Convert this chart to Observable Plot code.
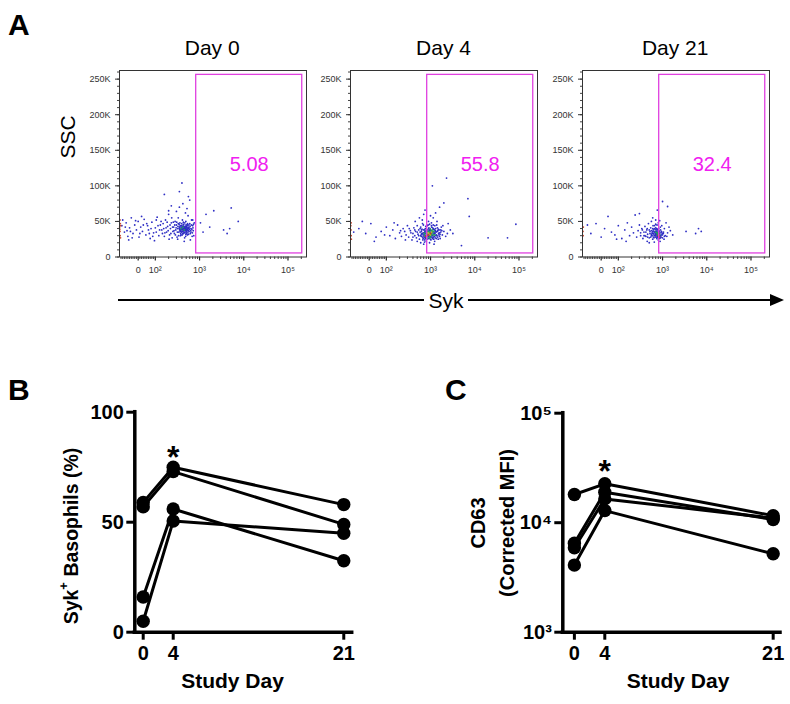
<!DOCTYPE html>
<html><head><meta charset="utf-8">
<script src="https://cdn.jsdelivr.net/npm/d3@7"></script>
<script src="https://cdn.jsdelivr.net/npm/@observablehq/plot@0.6"></script>
<style>
body{margin:0;background:#fff;}
#fig{position:relative;width:790px;height:704px;overflow:hidden;background:#fff;font-family:"Liberation Sans",Arial,sans-serif;}
#fig svg{position:absolute;}
</style></head><body><div id="fig"></div>
<script>
// ---------------- DATA ----------------
// Panel A: flow events [Syk fluorescence, SSC (K)]
const day0Events = [
[-80,35],[-70,48],[-60,29],[-50,41],[-40,55],[-30,33],[-20,45],[-10,38],[0,50],[5,28],[15,42],[25,36],[35,53],[45,31],[55,44],[60,38],[70,26],[80,49],[90,34],[100,41],[110,56],[120,30],[130,45],[-90,52],[-55,24],[20,57],[75,40],[95,23],[-95,44],[-65,37],[-35,27],[10,33],[50,47],[85,29],
[-75,42],[-45,36],[-15,51],[30,45],[65,33],[105,52],
[140,38],[150,47],[160,29],[170,52],[180,35],[190,43],[200,60],[210,31],[220,40],[230,48],[240,27],[250,36],[160,88],[200,65],[230,72],[145,33],[175,41],[205,25],[235,55],
[105,35],[115,44],[125,38],[135,50],[155,40],[165,34],[185,49],[195,37],[215,45],[225,33],[245,42],[255,49],
[260,42],[270,33],[280,50],[290,38],[300,45],[310,28],[320,40],[330,55],[340,35],[350,42],[360,48],[370,30],[380,38],[390,44],[400,36],[410,52],[420,41],[430,33],[440,46],[450,39],[460,27],[470,43],[480,37],[490,50],[500,34],[510,41],[520,45],[530,31],[540,38],[550,58],[560,42],[580,36],[600,47],[620,33],[640,40],[660,52],[680,29],[700,44],[720,37],[760,48],[300,64],[350,70],[420,75],[480,62],[520,68],[600,80],[400,104],[350,92],[560,85],[320,25],[450,22],[620,24],[380,31],[440,40],[500,43],[560,37],[420,36],[470,35],[520,38],[330,47],[360,39],[390,35],[410,43],[430,49],[460,41],[490,32],[540,45],[580,41],[640,35],[700,52],[740,30],
[265,37],[275,45],[285,31],[295,41],[305,49],[315,35],[325,43],[335,30],[345,46],[355,38],[365,44],[375,33],[385,41],[395,47],[405,31],[415,39],[425,45],[435,37],[445,42],[455,34],[465,48],[475,40],[485,29],[495,45],[505,38],[515,33],[525,42],[535,47],[545,35],[555,40],[565,32],[575,45],[590,39],[610,43],[630,37],[650,45],[670,39],[690,34],[710,41],[730,46],[345,40],[365,36],[385,39],[405,42],[425,38],[445,35],[465,39],[485,42],[505,36],[525,40],[360,42],[380,44],[400,39],[420,33],[440,43],[460,38],[480,40],[500,39],[370,37],[390,40],
[1050,48],[1200,35],[1400,60],[1700,42],[2100,65],[3500,38],[4200,33],[4800,40],[7500,50],[5200,69]
];
const day0Edge = [[-105,30],[-106,36],[-108,42],[-104,47],[-106,52],[-103,27],[-107,39],[-102,44]];
const day0Green = [[380,40],[420,42],[450,38]];
const day0Red = [];

const day4Events = [
[-60,40],[-20,33],[10,47],[40,28],[70,36],[100,42],[120,30],[140,38],[160,26],[180,45],[200,34],[220,29],[240,40],[260,36],[280,31],[300,44],[-90,35],[-40,50],[30,22],[90,31],[150,48],[210,37],[270,24],
[320,28],[350,37],[380,24],[400,33],[420,41],[440,30],[460,36],[480,27],[500,44],[520,32],[540,38],[560,25],[580,35],[600,42],[620,29],[640,33],[660,47],[680,26],[700,38],[720,31],[740,35],[760,28],[780,43],[800,22],[820,34],[650,52],[700,60],[560,55],[750,66],[450,50],[600,20],[700,18],[500,22],[780,30],[720,27],[660,33],[620,36],[760,40],[800,37],[680,31],[740,24],[600,30],[640,39],[690,45],[730,21],[770,33],[810,29],
[500,35],[540,30],[580,40],[440,38],[400,28],[360,34],[330,40],[620,32],[660,28],[700,34],[740,38],[780,26],[820,31],[630,38],[670,24],[710,29],[750,36],[790,33],[830,25],
[860,30],[880,36],[900,26],[920,41],[950,33],[980,29],[1000,38],[1020,24],[1050,44],[1080,31],[1100,35],[1130,27],[1160,40],[1200,33],[1240,22],[1280,37],[1320,30],[1380,45],[1450,28],[1500,39],[1580,34],[1650,26],[1750,42],[1850,31],[2000,36],[2200,29],[2500,47],[2800,38],[900,50],[1000,58],[1150,55],[1300,62],[1600,70],[2000,76],[2300,111],[1100,100],[7000,82],[7500,57],[5000,16],[20000,27],[55000,27],[85000,46],[3200,33],[950,20],[1200,18],[880,45],[1400,50],[1050,28],[970,35],[1120,30],[1250,34],[940,38],[1060,42],[1180,25],[1350,26],[1420,36],[1550,31],[1700,38],[1900,44],[2400,33],
[860,35],[900,40],[940,27],[980,33],[1020,37],[1060,30],[1100,26],[1140,35],[1180,39],[1220,29],[1260,33],[1300,40],[1340,35],[1400,30],[1460,37],[1520,33],[1600,29],[1700,35],[870,38],[910,29],[950,37],[990,25],[1030,31],[1070,36],[1110,41],[1150,28],[1190,32],[1230,38],[1270,27],[1310,36],[1360,31],[1430,41],[1490,25],[1560,38],[1640,32],[1800,37],[850,44],[950,46],[1050,48],[1150,45],[1250,44]
];
const day4Edge = [[-105,30],[-106,38],[-104,25],[-107,44],[-105,48]];
const day4Green = [[850,32],[950,30],[1050,34],[1150,31],[900,36],[1000,28],[1100,38],[800,33],[750,30],[1200,36],[980,40],[870,27],
[820,36],[880,33],[930,35],[1020,31],[1080,33],[1130,36],[960,27],[1040,37],[720,33],[1250,31]];
const day4Yellow = [[920,33],[1000,31],[870,34],[1060,35]];
const day4Red = [[900,31],[1000,33],[780,29],[840,30]];

const day21Events = [
[-60,33],[-30,47],[0,28],[20,40],[40,57],[60,35],[80,31],[100,44],[120,26],[140,38],[160,48],[180,30],[200,42],[220,34],[240,59],[260,28],[280,37],[300,61],[150,22],[90,25],[-80,45],
[300,45],[320,30],[340,40],[360,26],[380,35],[400,43],[420,29],[440,38],[460,32],[480,47],[500,27],[520,36],[540,41],[560,30],[580,34],[600,25],[620,38],[640,31],[660,44],[680,28],[700,36],[720,33],[740,40],[760,29],[780,35],[800,31],[820,37],[700,52],[760,66],[600,55],[500,20],[650,21],[800,24],[560,50],[620,28],[680,33],[740,26],[780,30],[820,27],[720,38],[450,22],[400,30],[640,36],[700,30],[750,34],[790,39],[600,33],
[520,33],[540,28],[560,37],[580,30],[600,40],[620,33],[640,27],[660,35],[680,39],[700,32],[720,28],[740,36],[760,32],[780,38],[800,27],[820,33],[660,30],[700,41],[740,31],[780,28],[820,40],[600,36],[560,32],[500,38],[460,28],[420,35],[380,30],[350,38],[320,34],[750,45],[800,48],[700,46],[650,40],[610,44],[450,40],
[850,33],[870,29],[900,38],[930,31],[960,44],[1000,27],[1050,35],[1100,40],[1150,30],[1200,48],[1300,34],[1400,42],[1500,37],[1700,31],[1000,78],[1300,71],[3400,36],[5600,33],[6500,40],[7500,36],[860,51],[880,22],[950,35],[1080,25],[1250,29],[900,30],[980,33],
[840,36],[860,30],[880,34],[900,27],[940,36],[990,31],[1040,33],[1100,29],[860,26],[890,42],[930,28]
];
const day21Edge = [[-105,30],[-106,36],[-104,42]];
const day21Green = [[780,33],[820,35],[760,31],[740,34],[800,33],[860,31],[700,35]];
const day21Yellow = [];
const day21Red = [[800,30],[850,28],[820,32]];
const day0Yellow = [];

const flowTitles = ["Day 0", "Day 4", "Day 21"];
const gatePercents = ["5.08", "55.8", "32.4"];
const gate = {sykLo: 840, sykHi: 210000, sscLo: 5, sscHi: 256};   // SSC in K
const sscTicks = [0, 50, 100, 150, 200, 250];
const sscMinor = d3.range(0, 261, 10);
const sykTicks = [0, 100, 1000, 10000, 100000];
const sykTickLabels = ["0", "10\u00B2", "10\u00B3", "10\u2074", "10\u2075"];
const sykMinor = [-100,-90,-80,-70,-60,-50,-40,-30,-20,-10,10,20,30,40,50,60,70,80,90,
  200,300,400,500,600,700,800,900,2000,3000,4000,5000,6000,7000,8000,9000,
  20000,30000,40000,50000,60000,70000,80000,90000,200000];

// Panels B & C
const studyDays = [0, 4, 21];
const subjects = ["S1", "S2", "S3", "S4"];
const sykPositive = [[59, 75, 58], [57, 73, 49], [16, 56, 32.5], [5, 50.5, 45]];      // %
const cd63MFI = [[18100, 22650, 11600], [6500, 19000, 10700], [5900, 16500, 11000], [4100, 12900, 5200]];
const starB = [{day: 4, y: 83}];
const starC = [{day: 4, y: 34500}];

// ---------------- HELPERS ----------------
const FONT = "Liberation Sans, Arial, Helvetica, sans-serif";
const fig = document.getElementById("fig");
function place(node, left, top) { node.style.left = left + "px"; node.style.top = top + "px"; fig.appendChild(node); }
// biexponential-like display transform (decades)
function biex(v) { return v >= 100 ? Math.log10(v) : 2 - (100 - v) * 0.00388; }
const sykLabelMap = new Map(sykTicks.map((v, i) => [biex(v), sykTickLabels[i]]));

function flowPlot(events, edge, green, yellow, red, pct) {
  const W = 187, H = 186.5, mL = 42, mR = 4, mT = 4, mB = 26;
  const gateData = [gate];
  const ev = (arr, fill) => Plot.dot(arr, {x: d => biex(d[0]), y: d => d[1], r: 0.9, fill});
  return Plot.plot({
    width: W + mL + mR, height: H + mT + mB,
    marginLeft: mL, marginRight: mR, marginTop: mT, marginBottom: mB,
    style: {fontFamily: FONT, fontSize: "9px", color: "#333", background: "transparent", overflow: "visible"},
    x: {domain: [1.19, 5.4185], axis: null},
    y: {domain: [0, 262.144], axis: null},
    marks: [
      Plot.axisY(sscMinor, {tickSize: 2, tickFormat: () => "", stroke: "#444", label: null}),
      Plot.axisY(sscTicks, {tickSize: 4, tickPadding: 5, stroke: "#333", fill: "#333", fontSize: 9, label: null,
        tickFormat: d => d === 0 ? "0" : d + "K"}),
      Plot.axisX(sykMinor.map(biex), {tickSize: 2.5, tickFormat: () => "", stroke: "#444", label: null}),
      Plot.axisX(sykTicks.map(biex), {tickSize: 4, tickPadding: 6, strokeWidth: 1.2, stroke: "#222", fill: "#333", fontSize: 9, label: null,
        tickFormat: u => sykLabelMap.get(u)}),
      ev(events, "#2e2ec4"),
      ev(edge, "#c84830"),
      ev(green, "#1fa55a"),
      ev(yellow, "#c8c020"),
      ev(red, "#d03020"),
      Plot.rect(gateData, {x1: d => biex(d.sykLo), x2: d => biex(d.sykHi), y1: "sscLo", y2: "sscHi",
        fill: "none", stroke: "#e040e0", strokeWidth: 1.3}),
      Plot.text(gateData, {x: d => (biex(d.sykLo) + biex(d.sykHi)) / 2, y: d => (d.sscLo + d.sscHi) / 2,
        text: () => pct, fill: "#f020f0", fontSize: 20, fontFamily: FONT}),
      Plot.frame({stroke: "#333", strokeWidth: 1})
    ]
  });
}

function longData(values) {
  const out = [];
  subjects.forEach((s, i) => studyDays.forEach((d, j) => out.push({subj: s, day: d, v: values[i][j]})));
  return out;
}

const bold = {fontSize: 20, fontWeight: "bold", fontFamily: FONT, label: null};

// ---------------- PANEL A ----------------
const flowLefts = [118.7, 350, 581.7];
const flowSets = [
  [day0Events, day0Edge, day0Green, day0Yellow, day0Red],
  [day4Events, day4Edge, day4Green, day4Yellow, day4Red],
  [day21Events, day21Edge, day21Green, day21Yellow, day21Red]];
flowSets.forEach((s, i) => place(flowPlot(s[0], s[1], s[2], s[3], s[4], gatePercents[i]), flowLefts[i] - 42, 69.5 - 4));

// Study-day axis positions (the graph software draws day 0 one unit in from the axis)
const dayPosB = d3.scaleLinear([0, 4, 21], [1.01, 4, 21]);
const dayPosC = d3.scaleLinear([0, 4, 21], [0.93, 4, 21]);
const dayLabelB = new Map(studyDays.map(d => [dayPosB(d), String(d)]));
const dayLabelC = new Map(studyDays.map(d => [dayPosC(d), String(d)]));

// ---------------- PANEL B ----------------
const bData = longData(sykPositive);
const plotB = Plot.plot({
  width: 390, height: 344, marginLeft: 134.3, marginRight: 38.3, marginTop: 51.7, marginBottom: 72.3,
  style: {fontFamily: FONT, background: "transparent", overflow: "visible", color: "#000"},
  x: {domain: [0.173, 21.84], axis: null},
  y: {domain: [0, 100], axis: null},
  marks: [
    Plot.axisY([0, 50, 100], {tickSize: 8, tickPadding: 3, strokeWidth: 3, ...bold}),
    Plot.axisX(studyDays.map(dayPosB), {tickSize: 8, tickPadding: 6, strokeWidth: 3, ...bold, tickFormat: d => dayLabelB.get(d)}),
    Plot.ruleX([0.173], {y1: 0, y2: 100, strokeWidth: 3.5, strokeLinecap: "square"}),
    Plot.ruleY([0], {x1: 0.173, x2: 21.84, strokeWidth: 3.5, strokeLinecap: "square"}),
    Plot.line(bData, {x: d => dayPosB(d.day), y: "v", z: "subj", stroke: "#000", strokeWidth: 3}),
    Plot.dot(bData, {x: d => dayPosB(d.day), y: "v", r: 6.7, fill: "#000"}),
    Plot.text(starB, {x: d => dayPosB(d.day), y: "y", text: () => "*", fontSize: 32, fontWeight: "bold", dy: 8})
  ]
});
place(plotB, 0, 360);

// ---------------- PANEL C ----------------
const cData = longData(cd63MFI);
const supMap = {1000: "10\u00B3", 10000: "10\u2074", 100000: "10\u2075"};
const plotC = Plot.plot({
  width: 390, height: 344, marginLeft: 162.3, marginRight: 10, marginTop: 52.7, marginBottom: 72.3,
  style: {fontFamily: FONT, background: "transparent", overflow: "visible", color: "#000"},
  x: {domain: [-0.24, 21.74], axis: null},
  y: {type: "log", domain: [1000, 100000], axis: null},
  marks: [
    Plot.axisY([1000, 10000, 100000], {tickSize: 8, tickPadding: 3, strokeWidth: 3, ...bold, tickFormat: d => supMap[d]}),
    Plot.axisX(studyDays.map(dayPosC), {tickSize: 8, tickPadding: 6, strokeWidth: 3, ...bold, tickFormat: d => dayLabelC.get(d)}),
    Plot.ruleX([-0.24], {y1: 1000, y2: 100000, strokeWidth: 3.5, strokeLinecap: "square"}),
    Plot.ruleY([1000], {x1: -0.24, x2: 21.74, strokeWidth: 3.5, strokeLinecap: "square"}),
    Plot.line(cData, {x: d => dayPosC(d.day), y: "v", z: "subj", stroke: "#000", strokeWidth: 3}),
    Plot.dot(cData, {x: d => dayPosC(d.day), y: "v", r: 6.7, fill: "#000"}),
    Plot.text(starC, {x: d => dayPosC(d.day), y: "y", text: () => "*", fontSize: 32, fontWeight: "bold", dy: 8})
  ]
});
place(plotC, 400, 360);

// ---------------- ANNOTATIONS ----------------
const ov = d3.create("svg").attr("width", 790).attr("height", 704)
  .style("left", "0px").style("top", "0px").style("pointer-events", "none")
  .attr("font-family", FONT);
function txt(x, y, s, size, weight, anchor, rot) {
  const t = ov.append("text").attr("font-size", size).attr("font-weight", weight || "normal")
    .attr("text-anchor", anchor || "middle").attr("fill", "#000");
  if (rot) t.attr("transform", `translate(${x},${y}) rotate(${rot})`).attr("dominant-baseline", "central");
  else t.attr("x", x).attr("y", y);
  t.text(s);
  return t;
}
txt(8, 35, "A", 30, "bold", "start");
txt(8, 400, "B", 30, "bold", "start");
txt(445, 400, "C", 30, "bold", "start");
const flowCenters = flowLefts.map(l => l + 187 / 2);
flowTitles.forEach((t, i) => txt(flowCenters[i], 55, t, 21));
txt(67, 137, "SSC", 21, "normal", "middle", -90);
// Syk arrow
ov.append("line").attr("x1", 118).attr("x2", 424).attr("y1", 300).attr("y2", 300).attr("stroke", "#000").attr("stroke-width", 2);
ov.append("line").attr("x1", 468).attr("x2", 772).attr("y1", 300).attr("y2", 300).attr("stroke", "#000").attr("stroke-width", 2);
ov.append("path").attr("d", "M770,294 L784,300 L770,306 Z").attr("fill", "#000");
const syk = txt(446, 300, "Syk", 21);
syk.attr("dominant-baseline", "central");
// B y title
const tb = txt(71, 536, "", 19.5, "bold", "middle", -90);
tb.text(null);
tb.append("tspan").text("Syk");
tb.append("tspan").attr("baseline-shift", "super").attr("font-size", 13).text("+");
tb.append("tspan").text(" Basophils (%)");
txt(232.5, 688, "Study Day", 21, "bold");
// C y title
txt(478, 523, "CD63", 20, "bold", "middle", -90);
txt(507, 523, "(Corrected MFI)", 20, "bold", "middle", -90);
txt(678, 688, "Study Day", 21, "bold");
place(ov.node(), 0, 0);
</script></body></html>
